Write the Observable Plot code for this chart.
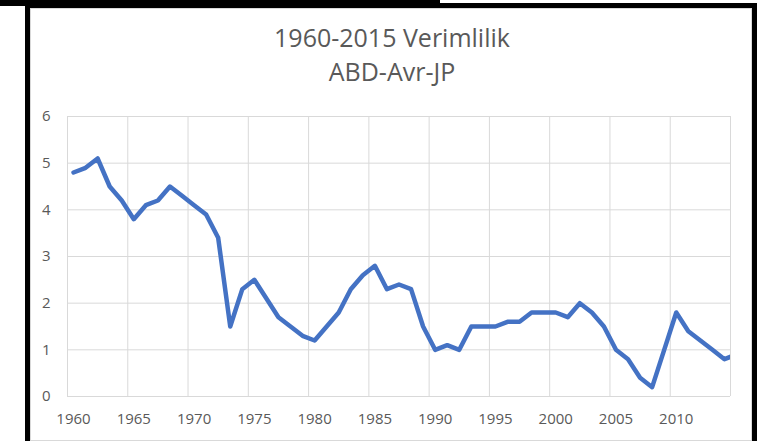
<!DOCTYPE html>
<html>
<head>
<meta charset="utf-8">
<script src="https://cdn.jsdelivr.net/npm/d3@7"></script>
<script src="https://cdn.jsdelivr.net/npm/@observablehq/plot@0.6"></script>
<style>
  html, body { margin: 0; padding: 0; background: #fff; }
  #wrap { position: relative; width: 780px; height: 441px; overflow: hidden; background: #fff; font-family: "Open Sans", sans-serif; }
  #inner { position: absolute; left: 30px; top: 8px; width: 720px; height: 431px; border: 1px solid #d9d9d9; }
  #box { position: absolute; left: 25px; top: 3px; width: 722px; height: 460px; border: 5px solid #000; }
  #topbar { position: absolute; left: 0; top: 0; width: 440px; height: 6px; background: #000; }
  .title { position: absolute; left: 0; width: 784px; text-align: center; font-size: 25px; line-height: 25px; height: 25px; color: #595959; }
  #t1 { top: 25px; }
  #t2 { top: 59px; }
  #chart { position: absolute; left: 0; top: 100px; }
</style>
</head>
<body>
<div id="wrap">
  <div id="inner"></div>
  <div class="title" id="t1">1960-2015 Verimlilik</div>
  <div class="title" id="t2">ABD-Avr-JP</div>
  <div id="chart"></div>
  <div id="box"></div>
  <div id="topbar"></div>
</div>
<script>
const years = [1960,1961,1962,1963,1964,1965,1966,1967,1968,1969,
               1970,1971,1972,1973,1974,1975,1976,1977,1978,1979,
               1980,1981,1982,1983,1984,1985,1986,1987,1988,1989,
               1990,1991,1992,1993,1994,1995,1996,1997,1998,1999,
               2000,2001,2002,2003,2004,2005,2006,2007,2008,2009,
               2010,2011,2012,2013,2014,2015];
const values = [4.8,4.9,5.1,4.5,4.2,3.8,4.1,4.2,4.5,4.3,
                4.1,3.9,3.4,1.5,2.3,2.5,2.1,1.7,1.5,1.3,
                1.2,1.5,1.8,2.3,2.6,2.8,2.3,2.4,2.3,1.5,
                1.0,1.1,1.0,1.5,1.5,1.5,1.6,1.6,1.8,1.8,
                1.8,1.7,2.0,1.8,1.5,1.0,0.8,0.4,0.2,1.0,
                1.8,1.4,1.2,1.0,0.8,0.9];
const yTicks = [0,1,2,3,4,5,6];
const xTickLabels = [1960,1965,1970,1975,1980,1985,1990,1995,2000,2005,2010];
const firstCategory = 1960, lastCategory = 2014;

const data = years.map((year, i) => ({year, value: values[i]}));
// category boundaries (Excel style: gridlines between categories)
const xGrid = xTickLabels.map(d => d - 0.5).concat([lastCategory + 0.5]);

const chart = Plot.plot({
  width: 780,
  height: 341,
  marginTop: 16,
  marginRight: 50,
  marginBottom: 45,
  marginLeft: 67,
  style: { fontFamily: "Open Sans, sans-serif", fontSize: "15px", color: "#595959", background: "transparent" },
  x: { type: "linear", domain: [firstCategory - 0.5, lastCategory + 0.5], label: null },
  y: { domain: [0, 6], label: null },
  marks: [
    Plot.ruleY(yTicks, { stroke: "#d9d9d9", strokeWidth: 1 }),
    Plot.ruleX(xGrid, { stroke: "#d9d9d9", strokeWidth: 1 }),
    Plot.lineY(data, { x: "year", y: "value", stroke: "#4472C4", strokeWidth: 4.5,
                       strokeLinejoin: "round", strokeLinecap: "round", clip: true }),
    Plot.axisX(xTickLabels, { tickSize: 0, tickPadding: 17, fontSize: 15, tickFormat: d => String(d), fill: "#595959" }),
    Plot.axisY(yTicks, { tickSize: 0, tickPadding: 17, fontSize: 15, fill: "#595959" })
  ]
});
document.getElementById("chart").appendChild(chart);
</script>
</body>
</html>
